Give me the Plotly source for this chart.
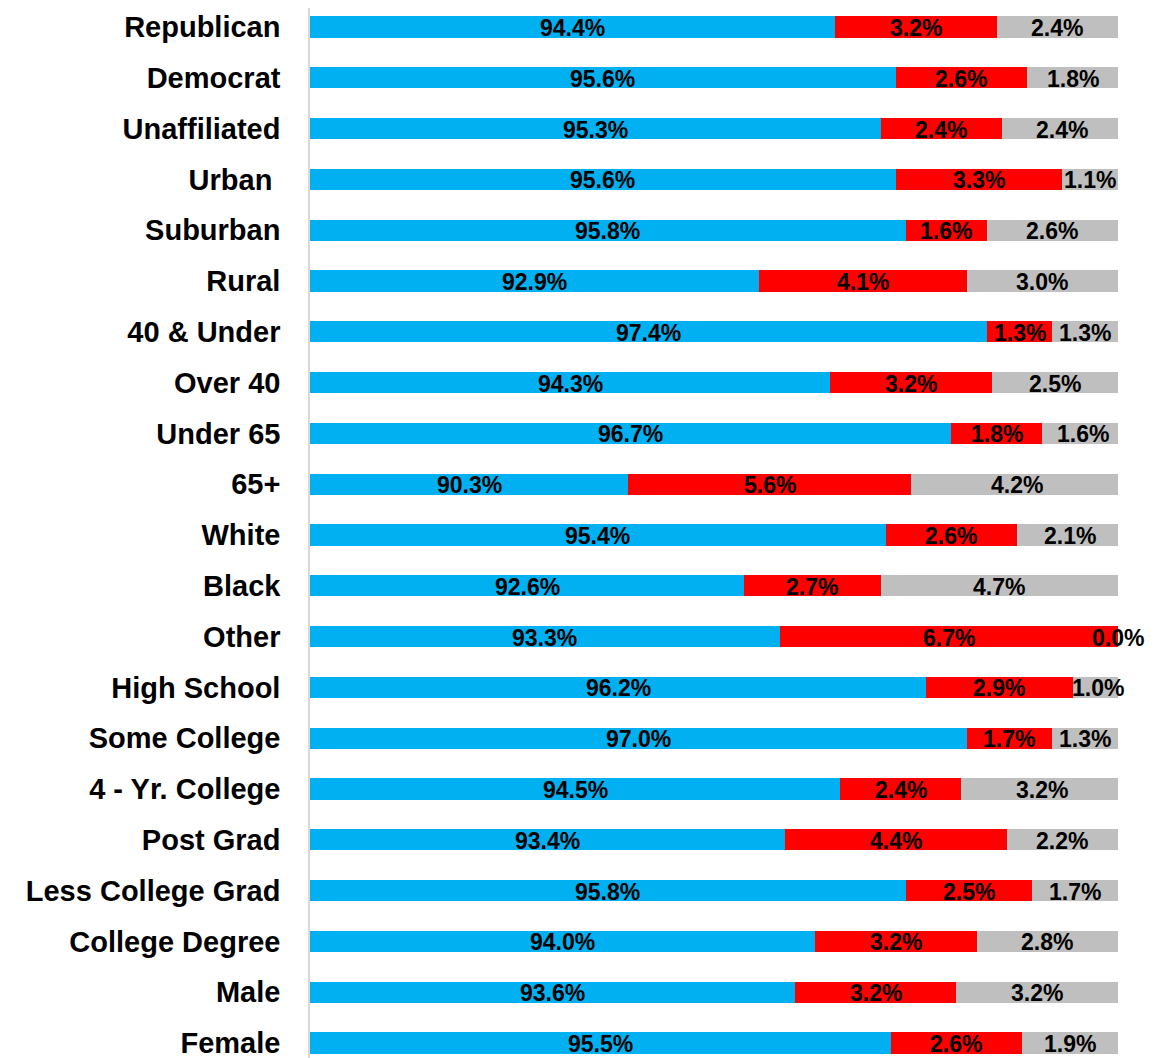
import plotly.graph_objects as go

categories = ["Republican", "Democrat", "Unaffiliated", "Urban\u00a0", "Suburban", "Rural",
              "40 & Under", "Over 40", "Under 65", "65+", "White", "Black", "Other",
              "High School", "Some College", "4 - Yr. College", "Post Grad",
              "Less College Grad", "College Degree", "Male", "Female"]
blue_vals = [94.4, 95.6, 95.3, 95.6, 95.8, 92.9, 97.4, 94.3, 96.7, 90.3, 95.4, 92.6, 93.3,
             96.2, 97.0, 94.5, 93.4, 95.8, 94.0, 93.6, 95.5]
red_vals = [3.2, 2.6, 2.4, 3.3, 1.6, 4.1, 1.3, 3.2, 1.8, 5.6, 2.6, 2.7, 6.7,
            2.9, 1.7, 2.4, 4.4, 2.5, 3.2, 3.2, 2.6]
gray_vals = [2.4, 1.8, 2.4, 1.1, 2.6, 3.0, 1.3, 2.5, 1.6, 4.2, 2.1, 4.7, 0.0,
             1.0, 1.3, 3.2, 2.2, 1.7, 2.8, 3.2, 1.9]

X_MIN, X_MAX = 84, 100
BLUE, RED, GRAY = "#00B0F0", "#FF0000", "#BFBFBF"
LABEL_FONT = dict(family="Liberation Sans, Arial, sans-serif", size=23, color="#000000", weight="bold")

fig = go.Figure()
for vals, col in [(blue_vals, BLUE), (red_vals, RED), (gray_vals, GRAY)]:
    fig.add_trace(go.Bar(y=categories, x=vals, orientation="h", marker=dict(color=col, line=dict(width=0)),
                         width=0.42, showlegend=False, hoverinfo="skip"))

# label positions: centre of the visible part of each segment
blue_pos = [(X_MIN + b) / 2 for b in blue_vals]
red_pos = [b + r / 2 for b, r in zip(blue_vals, red_vals)]
gray_pos = [b + r + g / 2 for b, r, g in zip(blue_vals, red_vals, gray_vals)]
for pos, vals in [(blue_pos, blue_vals), (red_pos, red_vals), (gray_pos, gray_vals)]:
    for cat, xp, v in zip(categories, pos, vals):
        fig.add_annotation(x=xp, y=cat, xref="x", yref="y", text=f"{v:.1f}%", showarrow=False,
                           xanchor="center", yanchor="middle", yshift=-1, font=LABEL_FONT)

fig.update_layout(
    width=1162, height=1050,
    margin=dict(l=302, r=52, t=0, b=0),
    barmode="stack",
    plot_bgcolor="white", paper_bgcolor="white",
    xaxis=dict(range=[X_MIN, X_MAX], showticklabels=False, showgrid=False, zeroline=False,
               showline=False, ticks=""),
    yaxis=dict(type="category", categoryorder="array", categoryarray=categories,
               range=[20.295, -0.374], showgrid=False, zeroline=False,
               showline=True, linecolor="#D9D9D9", linewidth=1.5,
               ticks="", ticklabelstandoff=22,
               tickfont=dict(family="Liberation Sans, Arial, sans-serif", size=29, color="#000000",
                             weight="bold")),
)

fig.write_html("out.html")
